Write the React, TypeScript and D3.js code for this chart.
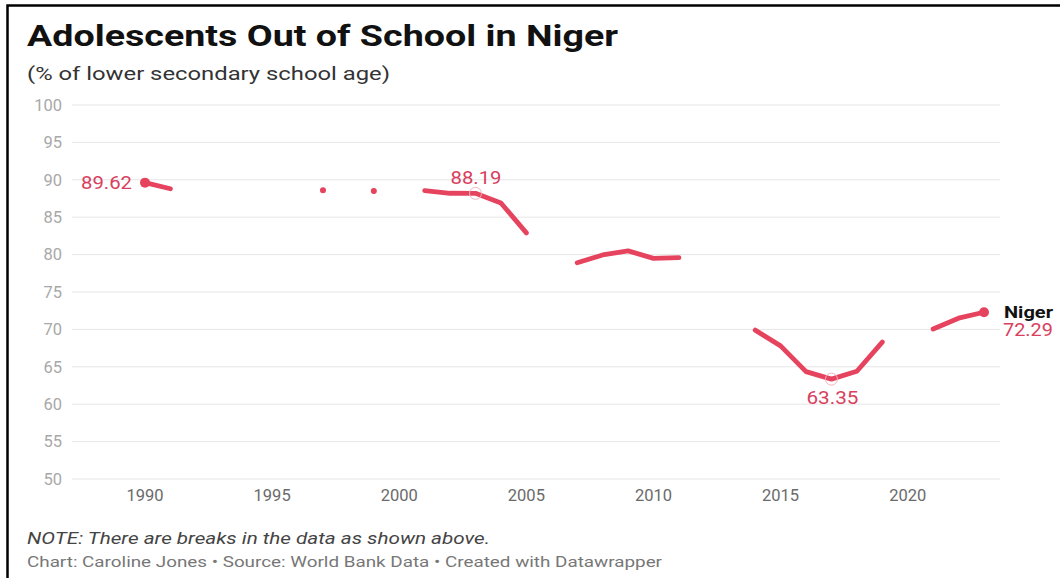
import React from "react";
import * as d3 from "d3";

const years: number[] = d3.range(1990, 2024);
const values: (number | null)[] = [
  89.62, 88.8, null, null, null, null, null, 88.6, null, 88.5,
  null, 88.55, 88.2, 88.19, 86.9, 82.9, null, 78.9, 79.95, 80.5,
  79.5, 79.6, null, null, 69.9, 67.8, 64.35, 63.35, 64.4, 68.3,
  null, 70.05, 71.5, 72.29,
];
const yTicks: number[] = [50, 55, 60, 65, 70, 75, 80, 85, 90, 95, 100];
const xTicks: number[] = [1990, 1995, 2000, 2005, 2010, 2015, 2020];
const highlights: { year: number; value: number; pos: "left" | "above" | "below" }[] = [
  { year: 1990, value: 89.62, pos: "left" },
  { year: 2003, value: 88.19, pos: "above" },
  { year: 2017, value: 63.35, pos: "below" },
];
const seriesName = "Niger";
const title = "Adolescents Out of School in Niger";
const subtitle = "(% of lower secondary school age)";
const note = "NOTE: There are breaks in the data as shown above.";
const footer = "Chart: Caroline Jones • Source: World Bank Data • Created with Datawrapper";

const RED = "#e6435f";
const LABEL_RED = "#d9405e";
const FONT = "Roboto, 'Noto Sans', sans-serif";

export default function App() {
  const W = 1060, H = 578;
  const x = d3.scaleLinear().domain([1990, 2023]).range([145, 984]);
  const y = d3.scaleLinear().domain([50, 100]).range([479, 105]);
  const data = years.map((yr, i) => ({ year: yr, value: values[i] }));
  const line = d3
    .line<{ year: number; value: number | null }>()
    .defined((d) => d.value !== null)
    .x((d) => x(d.year))
    .y((d) => y(d.value as number));

  const isolated = data.filter(
    (d, i) =>
      d.value !== null &&
      (i === 0 || data[i - 1].value === null) &&
      (i === data.length - 1 || data[i + 1].value === null)
  );
  const last = data[data.length - 1];
  const first = data[0];
  const LA = "spacingAndGlyphs";

  return (
    <svg
      width={W}
      height={H}
      style={{ position: "absolute", left: 0, top: 0, background: "#fff" }}
      fontFamily={FONT}
    >
      <rect x={0} y={0} width={W} height={H} fill="#fff" />
      <path d={`M7.5,${H} L7.5,5.5 L${W},5.5`} fill="none" stroke="#000" strokeWidth={2.5} />

      <text x={27} y={46} fontSize={30} fontWeight={700} fill="#111" textLength={591} lengthAdjust={LA}>
        {title}
      </text>
      <text x={27} y={80} fontSize={18.5} fill="#333" textLength={363} lengthAdjust={LA}>
        {subtitle}
      </text>

      {yTicks.map((t) => (
        <g key={t}>
          <line x1={72} x2={1000} y1={y(t)} y2={y(t)} stroke="#e6e6e6" strokeWidth={1} />
          <text x={62} y={y(t)} dy="0.35em" textAnchor="end" fontSize={16.5} fill="#a8a8a8">
            {t}
          </text>
        </g>
      ))}

      {xTicks.map((t) => (
        <text key={t} x={x(t)} y={495} dy="0.35em" textAnchor="middle" fontSize={16.5} fill="#6a6a6a">
          {t}
        </text>
      ))}

      <path
        d={line(data) || ""}
        fill="none"
        stroke={RED}
        strokeWidth={4.8}
        strokeLinejoin="round"
        strokeLinecap="round"
      />
      {isolated.map((d) => (
        <circle key={d.year} cx={x(d.year)} cy={y(d.value as number)} r={3} fill={RED} />
      ))}
      <circle cx={x(first.year)} cy={y(first.value as number)} r={5} fill={RED} />
      <circle cx={x(last.year)} cy={y(last.value as number)} r={5} fill={RED} />

      {highlights.map((h) => {
        const cx = x(h.year), cy = y(h.value);
        return (
          <g key={h.year}>
            {h.pos !== "left" && (
              <circle cx={cx} cy={cy} r={6} fill="none" stroke="#f0b5c0" strokeWidth={1} />
            )}
            {h.pos === "left" && (
              <text x={cx - 64} y={cy} dy="0.35em" fontSize={17.5} fill={LABEL_RED} textLength={51} lengthAdjust={LA}>
                {h.value.toFixed(2)}
              </text>
            )}
            {h.pos === "above" && (
              <text x={cx - 25} y={cy - 9} fontSize={17.5} fill={LABEL_RED} textLength={51} lengthAdjust={LA}>
                {h.value.toFixed(2)}
              </text>
            )}
            {h.pos === "below" && (
              <text x={cx - 25} y={cy + 25} fontSize={17.5} fill={LABEL_RED} textLength={52} lengthAdjust={LA}>
                {h.value.toFixed(2)}
              </text>
            )}
          </g>
        );
      })}

      <text x={1004} y={312} dy="0.35em" fontSize={16.5} fontWeight={700} fill="#111" textLength={49} lengthAdjust={LA}>
        {seriesName}
      </text>
      <text x={1003} y={330} dy="0.35em" fontSize={17.5} fill={LABEL_RED} textLength={50} lengthAdjust={LA}>
        {(last.value as number).toFixed(2)}
      </text>

      <text x={27} y={544} fontSize={16} fontStyle="italic" fill="#444" textLength={463} lengthAdjust={LA}>
        {note}
      </text>
      <text x={27} y={567} fontSize={15} fill="#777" textLength={635} lengthAdjust={LA}>
        {footer}
      </text>
    </svg>
  );
}
